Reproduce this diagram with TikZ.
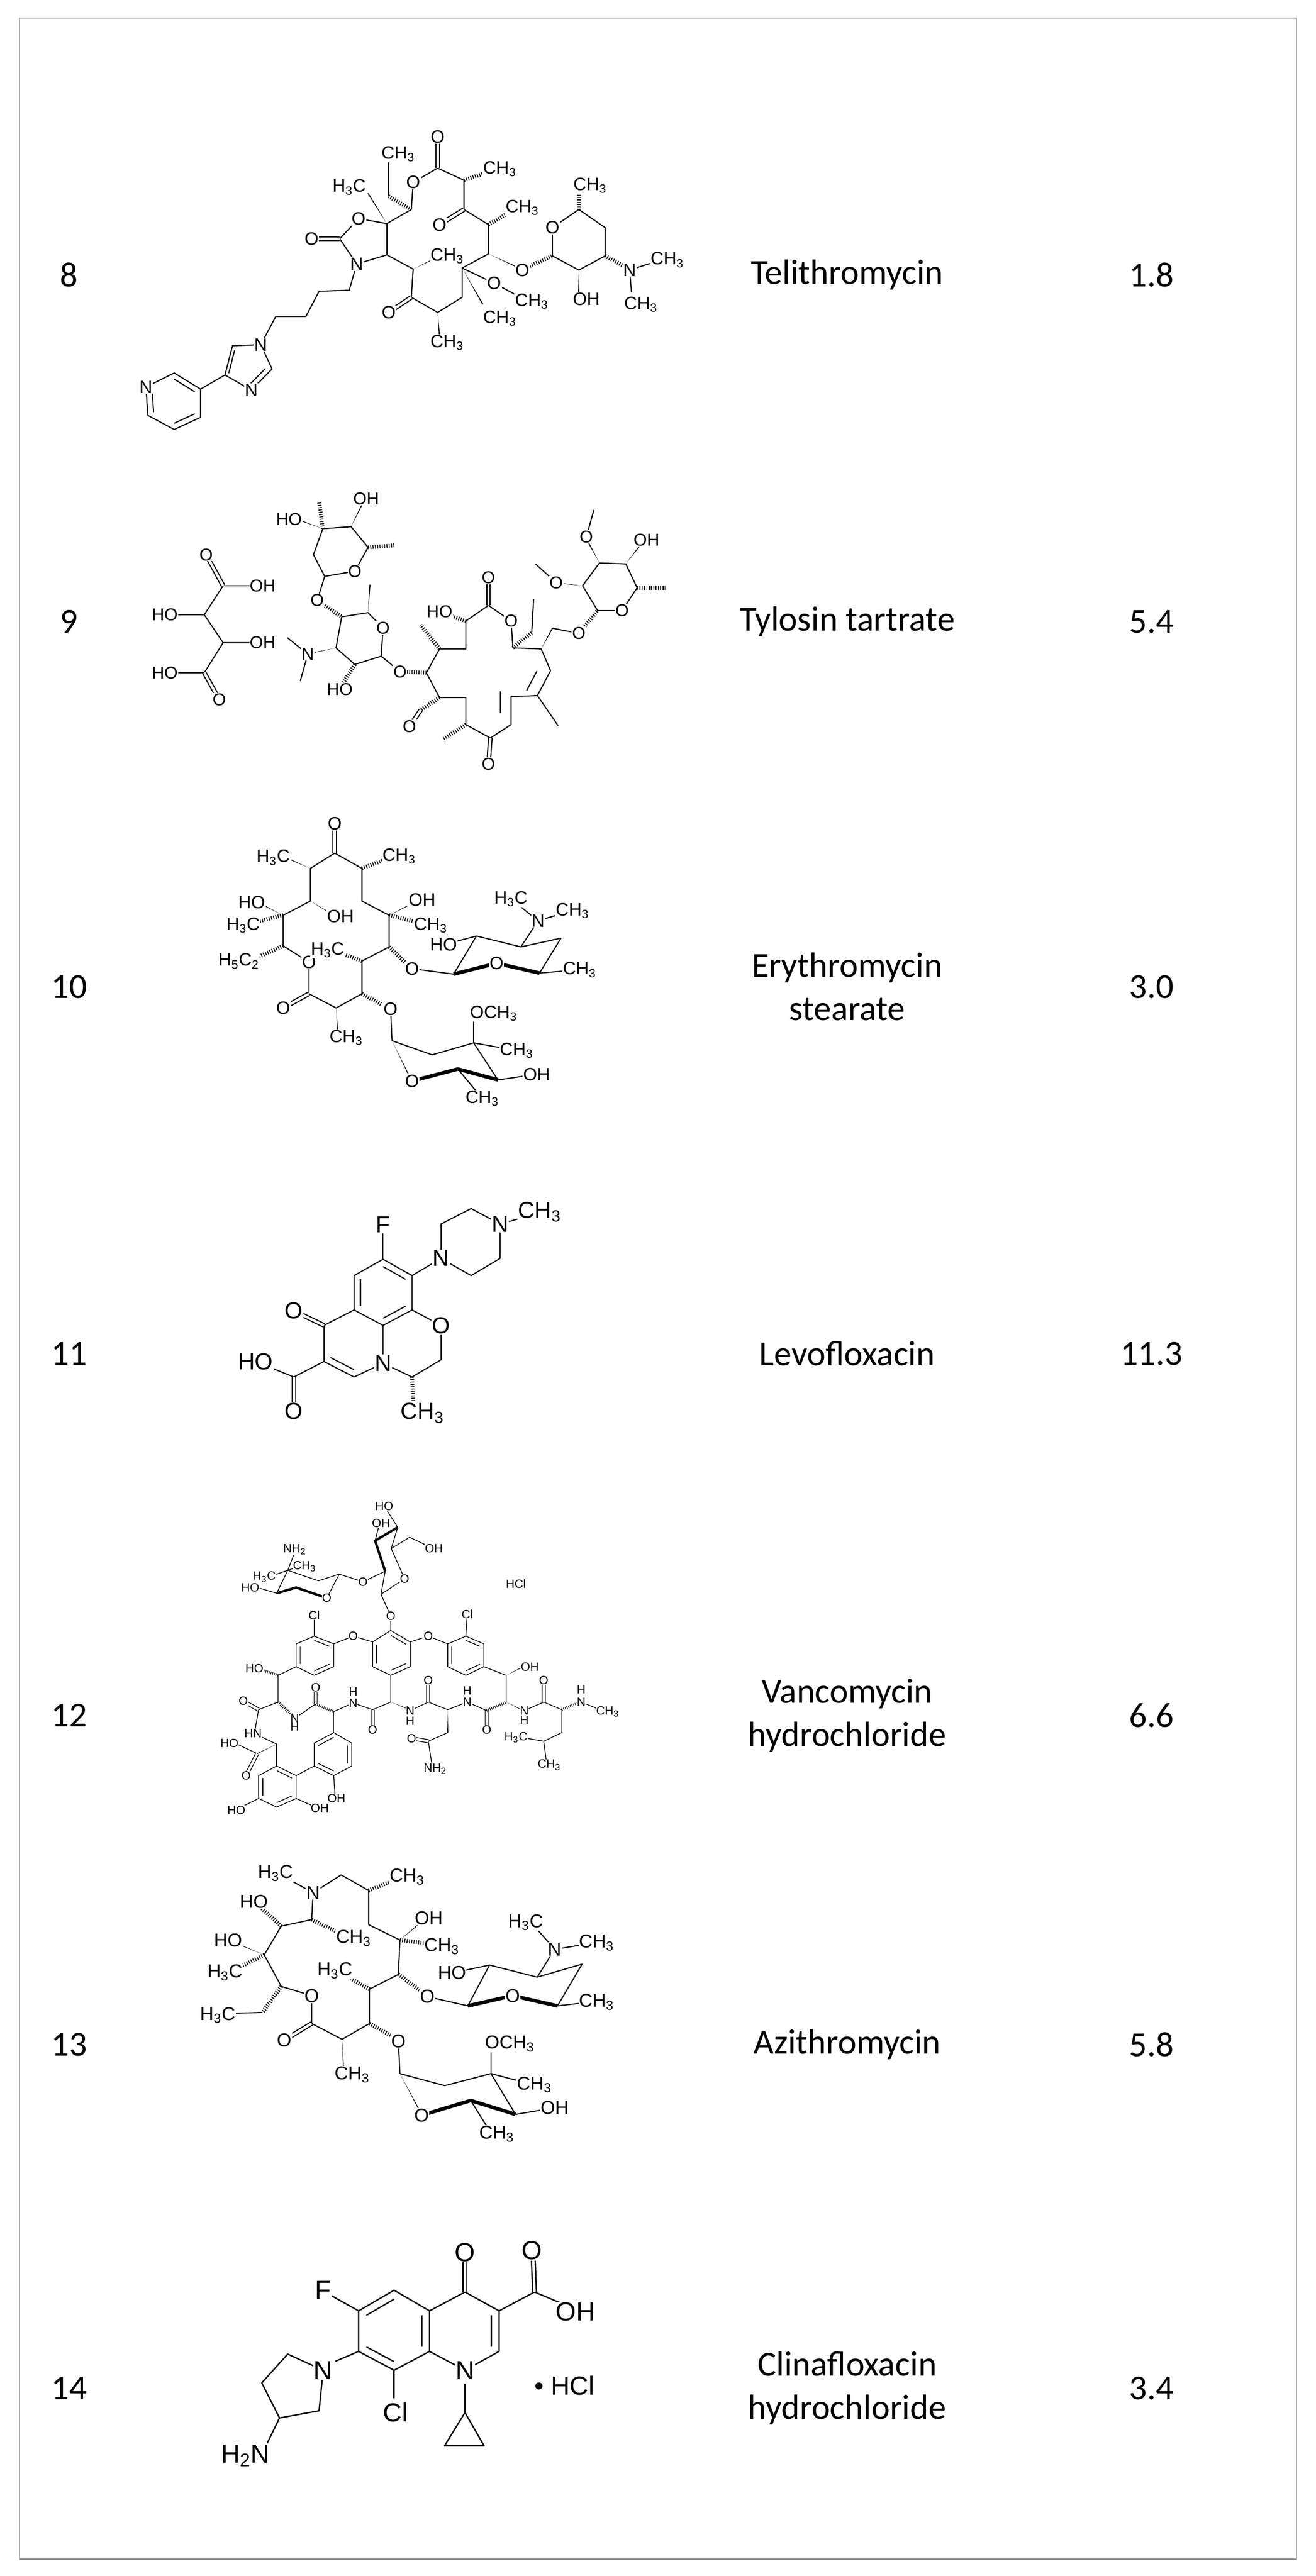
\documentclass[tikz,border=0pt]{standalone}
\usepackage{fontspec}
\setmainfont{Carlito}
\newfontfamily\af{Liberation Sans}
\usetikzlibrary{calc}
\newcommand\subs[1]{\textsubscript{#1}}
\newcommand\CH{CH\subs{3}}
\newcommand\HC{H\subs{3}C}
\newcommand\wdg[2]{\fill #1 -- ($#2!1.8pt!90:#1$) -- ($#2!1.8pt!-90:#1$) -- cycle;}
\newcommand\hsh[2]{\draw[hashb] #1 -- #2;}
\newcommand\din[3]{\draw[bond] ($#1!.22!#3$) -- ($#2!.22!#3$);}
\newcommand\dbo[2]{\draw[bond,double,double distance=1.6pt] #1 -- #2;}
\newcommand\lb[2]{\node[atm] at (#1) {#2};}
\tikzset{
 bond/.style={line width=0.75pt,line join=round},
 boldb/.style={line width=2.4pt,line join=round},
 hashb/.style={line width=2.6pt,dash pattern=on 0.55pt off 1pt},
 atm/.style={fill=white,inner sep=0.4pt,font=\af\fontsize{12}{13}\selectfont},
 tbl/.style={font=\fontsize{23.5}{29}\selectfont,align=center,inner sep=0pt}
}
\begin{document}
\begin{tikzpicture}[x=0.03866cm,y=-0.03866cm]
\useasboundingbox (0,0) rectangle (800,1566.2);
\fill[white] (0,0) rectangle (800,1566.2);
\draw[black!45,line width=0.7pt] (12,11) rectangle (788,1556);
% table text
\node[tbl] (n8) at (42,167) {8};
\node[tbl] (n9) at (42,378) {9};
\node[tbl] (n10) at (42,600) {10};
\node[tbl] (n11) at (42,823) {11};
\node[tbl] (n12) at (42,1043) {12};
\node[tbl] (n13) at (42,1243) {13};
\node[tbl] (n14) at (42,1452) {14};
\node[tbl] (c8) at (515,167) {Telithromycin};
\node[tbl] (c9) at (515,378) {Tylosin tartrate};
\node[tbl] (c10) at (515,600) {Erythromycin\\stearate};
\node[tbl] (c11) at (515,823) {Levofloxacin};
\node[tbl] (c12) at (515,1043) {Vancomycin\\hydrochloride};
\node[tbl] (c13) at (515,1243) {Azithromycin};
\node[tbl] (c14) at (515,1452) {Clinafloxacin\\hydrochloride};
\node[tbl] (v8) at (700,167) {1.8};
\node[tbl] (v9) at (700,378) {5.4};
\node[tbl] (v10) at (700,600) {3.0};
\node[tbl] (v11) at (700,823) {11.3};
\node[tbl] (v12) at (700,1043) {6.6};
\node[tbl] (v13) at (700,1243) {5.8};
\node[tbl] (v14) at (700,1452) {3.4};

% ---------- 8 Telithromycin
\begin{scope}[shift={(75,67.25)},xscale=0.2288,yscale=0.1227]
\draw[bond] (835,285)--(770,355)--(765,490)--(700,560)--(700,715)--(770,785)--(765,925)--(835,1000)--(900,925)--(900,780)--(970,710)--(970,565)--(905,490)--(905,345)--cycle;
\dbo{(835,285)}{(835,130)} \dbo{(765,925)}{(705,1000)} \dbo{(905,490)}{(840,565)}
\hsh{(905,345)}{(975,300)} \hsh{(970,565)}{(1030,500)}
\wdg{(970,710)}{(1040,770)} \hsh{(1080,770)}{(1140,720)}
\wdg{(900,780)}{(955,960)}
\draw[bond] (900,780)--(985,855)--(1060,930);
\wdg{(770,785)}{(830,730)} \wdg{(835,1000)}{(840,1120)}
\hsh{(765,490)}{(705,425)} \draw[bond] (705,425)--(705,250);
\wdg{(700,560)}{(650,410)}
\draw[bond] (700,560)--(625,535)--(575,635)--(620,760)--(700,715);
\dbo{(575,635)}{(500,635)}
\draw[bond] (620,760)--(600,890)--(520,895)--(485,1020)--(405,1020)--(365,1160);
\draw[bond] (365,1160)--(290,1165)--(270,1310)--(340,1385)--(395,1280)--cycle;
\din{(290,1165)}{(270,1310)}{(315,1270)} \din{(395,1280)}{(340,1385)}{(315,1270)}
\draw[bond] (270,1310)--(205,1380);
\draw[bond] (205,1380)--(135,1300)--(60,1370)--(65,1510)--(135,1580)--(205,1520)--cycle;
\din{(135,1300)}{(205,1380)}{(135,1440)} \din{(60,1370)}{(65,1510)}{(135,1440)} \din{(135,1580)}{(205,1520)}{(135,1440)}
\draw[bond] (1140,720)--(1140,580)--(1210,490)--(1280,580)--(1280,720)--(1210,790)--cycle;
\hsh{(1210,490)}{(1210,400)} \wdg{(1210,790)}{(1210,900)} \hsh{(1280,720)}{(1330,770)}
\draw[bond] (1345,790)--(1420,745); \draw[bond] (1345,790)--(1350,900);
\lb{835,130}{O} \lb{770,355}{O} \lb{705,1000}{O} \lb{840,565}{O}
\lb{1000,290}{\CH} \lb{1060,480}{\CH} \lb{1060,790}{O} \lb{1000,1030}{\CH}
\lb{985,855}{O} \lb{1085,945}{\CH} \lb{860,720}{\CH} \lb{860,1150}{\CH}
\lb{730,215}{\CH} \lb{600,380}{\HC} \lb{625,535}{O} \lb{620,760}{N} \lb{500,635}{O}
\lb{365,1160}{N} \lb{340,1385}{N} \lb{60,1370}{N}
\lb{1140,580}{O} \lb{1240,370}{\CH} \lb{1230,935}{OH} \lb{1345,790}{N} \lb{1445,740}{\CH} \lb{1375,960}{\CH}
\end{scope}

% ---------- 9 Tylosin tartrate
\begin{scope}[shift={(75,274.2)},xscale=0.2288,yscale=0.1260,atm/.append style={font=\af\fontsize{11.5}{12}\selectfont}]
\draw[bond] (365,650)--(265,650)--(215,790)--(110,790);
\draw[bond] (215,790)--(265,925)--(365,925);
\draw[bond] (265,925)--(215,1070)--(110,1070);
\dbo{(265,650)}{(220,500)} \dbo{(215,1070)}{(255,1200)}
\draw[bond] (535,605)--(615,580)--(650,465)--(605,365)--(530,375)--(505,500)--cycle;
\hsh{(650,465)}{(720,455)} \wdg{(605,365)}{(635,255)} \wdg{(530,375)}{(470,335)} \hsh{(530,375)}{(520,245)}
\draw[bond] (535,605)--(515,720);
\hsh{(515,720)}{(580,800)}
\draw[bond] (580,800)--(650,780)--(690,855)--(685,990)--(615,1030)--(565,950)--cycle;
\wdg{(650,780)}{(655,645)} \wdg{(565,950)}{(500,975)}
\draw[bond] (490,980)--(435,900); \draw[bond] (490,980)--(470,1110);
\hsh{(615,1030)}{(580,1130)}
\draw[bond] (685,990)--(735,1065); \hsh{(735,1065)}{(805,1070)}
\draw[bond] (805,1070)--(840,955)--(910,955)--(910,820)--(970,745)--(1030,820)--(1035,950)--(1110,955)--(1135,1060)--(1100,1180)--(1030,1185)--(1030,1320)--(975,1385)--(910,1320)--(910,1190)--(840,1190)--cycle;
\dbo{(970,745)}{(970,610)}
\din{(1135,1060)}{(1100,1180)}{(970,1070)} \din{(1030,1185)}{(1030,1320)}{(900,1070)}
\dbo{(975,1385)}{(970,1510)}
\hsh{(910,1320)}{(850,1390)} \hsh{(840,1190)}{(790,1250)} \dbo{(790,1250)}{(760,1330)}
\draw[bond] (1100,1180)--(1155,1325);
\hsh{(910,820)}{(860,790)} \hsh{(840,955)}{(790,840)}
\hsh{(1035,950)}{(1085,875)} \draw[bond] (1085,875)--(1090,715);
\wdg{(1110,955)}{(1140,855)} \draw[bond] (1140,855)--(1210,880); \hsh{(1210,880)}{(1260,770)}
\draw[bond] (1260,770)--(1325,770)--(1365,660)--(1335,545)--(1265,540)--(1220,650)--cycle;
\hsh{(1365,660)}{(1440,660)} \wdg{(1335,545)}{(1375,450)} \wdg{(1265,540)}{(1235,440)}
\draw[bond] (1230,415)--(1250,285);
\wdg{(1220,650)}{(1170,640)} \draw[bond] (1150,635)--(1095,545);
\lb{370,650}{OH} \lb{220,500}{O} \lb{110,790}{HO} \lb{370,925}{OH} \lb{110,1070}{HO} \lb{255,1200}{O}
\lb{615,580}{O} \lb{645,230}{OH} \lb{440,330}{HO} \lb{515,720}{O} \lb{690,855}{O} \lb{490,980}{N} \lb{575,1150}{HO} \lb{735,1065}{O}
\lb{1030,820}{O} \lb{970,610}{O} \lb{970,1510}{O} \lb{760,1330}{O} \lb{840,775}{HO} \lb{1210,880}{O}
\lb{1325,770}{O} \lb{1390,430}{OH} \lb{1230,415}{O} \lb{1150,635}{O}
\end{scope}

% ---------- 10 Erythromycin stearate
\begin{scope}[shift={(108.6,491.5)},xscale=0.1741,yscale=0.1326]
\draw[bond] (545,205)--(460,275)--(460,425)--(365,490)--(365,630)--(455,705)--(455,850)--(550,915)--(640,850)--(640,700)--(735,635)--(735,490)--(640,425)--(640,275)--cycle;
\dbo{(545,205)}{(545,70)} \dbo{(455,850)}{(365,915)}
\wdg{(460,275)}{(390,235)} \wdg{(460,425)}{(530,480)} \wdg{(365,490)}{(290,440)} \hsh{(365,490)}{(270,520)}
\hsh{(365,630)}{(280,680)} \wdg{(550,915)}{(555,1020)} \hsh{(640,850)}{(710,900)} \hsh{(640,700)}{(560,660)}
\hsh{(735,635)}{(800,720)} \wdg{(735,490)}{(810,440)} \hsh{(735,490)}{(830,520)} \hsh{(640,275)}{(720,235)}
\draw[bond] (815,735)--(960,760);
\draw[bond] (1260,755)--(1335,595)--(1195,635)--(1040,585)--(960,760);
\draw[boldb] (960,760)--(1110,710)--(1260,755);
\draw[bond] (1040,585)--(925,625); \draw[bond] (1195,635)--(1255,515);
\draw[bond] (1255,515)--(1160,415); \draw[bond] (1255,515)--(1370,470); \draw[bond] (1260,755)--(1400,740);
\draw[bond] (740,920)--(745,1065);
\draw[bond] (745,1065)--(885,1130)--(1030,1075)--(1115,1245);
\draw[boldb] (1115,1245)--(975,1195)--(815,1250);
\wdg{(745,1065)}{(810,1240)}
\draw[bond] (1030,1075)--(1030,960); \draw[bond] (1030,1075)--(1180,1110); \draw[bond] (1115,1245)--(1245,1220); \draw[bond] (975,1195)--(1060,1330);
\lb{455,705}{O} \lb{545,70}{O} \lb{365,915}{O} \lb{330,225}{\HC} \lb{565,495}{OH} \lb{255,430}{HO} \lb{225,535}{\HC}
\lb{210,700}{H\subs{5}C\subs{2}} \lb{585,1050}{\CH} \lb{740,920}{O} \lb{520,650}{\HC} \lb{815,735}{O} \lb{850,420}{OH} \lb{880,535}{\CH} \lb{770,220}{\CH}
\lb{1110,710}{O} \lb{925,625}{HO} \lb{1255,515}{N} \lb{1160,415}{\HC} \lb{1375,470}{\CH} \lb{1400,740}{\CH}
\lb{815,1250}{O} \lb{1100,940}{OCH\subs{3}} \lb{1180,1110}{\CH} \lb{1250,1220}{OH} \lb{1060,1330}{\CH}
\end{scope}

% ---------- 11 Levofloxacin
\begin{scope}[shift={(129.3,719.1)},xscale=0.1409,yscale=0.1045,atm/.append style={font=\af\fontsize{15.5}{16}\selectfont}]
\draw[bond] (735,445)--(860,540)--(860,740)--(735,830)--(610,740)--(610,540)--cycle;
\din{(735,445)}{(860,540)}{(735,640)} \din{(860,740)}{(735,830)}{(735,640)} \din{(610,740)}{(610,540)}{(735,640)}
\draw[bond] (735,445)--(735,245);
\draw[bond] (610,740)--(480,830)--(480,1040)--(610,1130)--(735,1050)--(735,830);
\din{(480,1040)}{(610,1130)}{(607,935)}
\dbo{(480,830)}{(350,745)}
\draw[bond] (480,1040)--(350,1130)--(185,1040); \dbo{(350,1130)}{(350,1330)}
\draw[bond] (860,740)--(985,830)--(985,1030)--(860,1130)--(735,1050);
\hsh{(860,1130)}{(865,1270)}
\draw[bond] (860,540)--(985,440);
\draw[bond] (985,440)--(985,240)--(1115,150)--(1240,240)--(1240,440)--(1115,540)--cycle;
\draw[bond] (1240,240)--(1400,180);
\lb{735,245}{F} \lb{735,1050}{N} \lb{350,745}{O} \lb{185,1040}{HO} \lb{350,1330}{O} \lb{985,830}{O} \lb{905,1340}{\CH}
\lb{985,440}{N} \lb{1240,240}{N} \lb{1410,170}{\CH}
\end{scope}

% ---------- 12 Vancomycin hydrochloride
\begin{scope}[shift={(129.3,928.6)},xscale=0.1691,yscale=0.1161,
  bond/.style={line width=0.5pt,line join=round},boldb/.style={line width=1.6pt},
  hashb/.style={line width=1.8pt,dash pattern=on 0.4pt off 0.8pt},
  atm/.append style={font=\af\fontsize{8}{9}\selectfont,inner sep=0.2pt}]
\draw[bond] (435,610)--(365,570)--(300,610)--(300,730)--(365,775)--(435,730)--cycle;
\din{(435,610)}{(365,570)}{(367,670)} \din{(300,610)}{(300,730)}{(367,670)} \din{(365,775)}{(435,730)}{(367,670)}
\draw[bond] (640,540)--(710,600)--(710,730)--(640,775)--(575,730)--(575,600)--cycle;
\din{(640,540)}{(710,600)}{(642,657)} \din{(710,730)}{(640,775)}{(642,657)} \din{(575,730)}{(575,600)}{(642,657)}
\draw[bond] (845,610)--(910,570)--(975,610)--(975,730)--(910,775)--(845,730)--cycle;
\din{(910,570)}{(975,610)}{(910,670)} \din{(975,730)}{(910,775)}{(910,670)} \din{(845,730)}{(845,610)}{(910,670)}
\draw[bond] (640,540)--(640,465)--(605,350);
\draw[bond] (575,600)--(505,570)--(435,610);
\draw[bond] (710,600)--(775,570)--(845,610);
\draw[bond] (365,570)--(365,460); \draw[bond] (910,570)--(915,455);
\draw[bond] (300,730)--(235,775); \hsh{(235,775)}{(170,745)}
\draw[bond] (235,775)--(235,915)--(165,955); \dbo{(165,955)}{(110,910)}
\hsh{(235,915)}{(290,990)}
\draw[bond] (295,1000)--(370,925); \dbo{(370,925)}{(370,840)} \hsh{(370,925)}{(435,965)}
\draw[bond] (435,965)--(505,920)--(575,955); \dbo{(575,955)}{(575,1060)}
\draw[bond] (575,955)--(640,915)--(640,775); \wdg{(640,915)}{(700,950)}
\draw[bond] (710,960)--(775,915); \dbo{(775,915)}{(775,800)}
\draw[bond] (775,915)--(845,955); \wdg{(845,955)}{(845,1075)}
\draw[bond] (845,1075)--(775,1120); \dbo{(775,1120)}{(715,1105)} \draw[bond] (775,1120)--(790,1260);
\draw[bond] (845,955)--(915,915)--(985,960); \dbo{(985,960)}{(985,1060)} \hsh{(985,960)}{(1055,915)}
\draw[bond] (1055,915)--(1055,775)--(975,730); \wdg{(1055,775)}{(1110,735)}
\wdg{(1055,915)}{(1110,955)}
\draw[bond] (1120,960)--(1190,915); \dbo{(1190,915)}{(1190,800)}
\draw[bond] (1190,915)--(1255,955); \hsh{(1255,955)}{(1315,920)}
\draw[bond] (1325,915)--(1400,960);
\draw[bond] (1255,955)--(1255,1075)--(1190,1120)--(1110,1100); \draw[bond] (1190,1120)--(1200,1230);
\draw[bond] (165,955)--(150,1080)--(230,1135); \wdg{(230,1135)}{(160,1185)}
\draw[bond] (160,1185)--(80,1130); \dbo{(160,1185)}{(120,1300)}
\draw[bond] (230,1135)--(230,1250);
\draw[bond] (230,1250)--(300,1300)--(300,1420)--(230,1465)--(165,1420)--(165,1300)--cycle;
\din{(230,1250)}{(300,1300)}{(232,1358)} \din{(300,1420)}{(230,1465)}{(232,1358)} \din{(165,1420)}{(165,1300)}{(232,1358)}
\draw[bond] (165,1420)--(95,1470); \draw[bond] (300,1420)--(370,1465); \draw[bond] (300,1300)--(365,1250);
\draw[bond] (435,1075)--(500,1130)--(500,1250)--(435,1300)--(365,1250)--(365,1130)--cycle;
\din{(500,1130)}{(500,1250)}{(432,1188)} \din{(435,1300)}{(365,1250)}{(432,1188)} \din{(365,1130)}{(435,1075)}{(432,1188)}
\draw[bond] (435,1075)--(435,965); \draw[bond] (435,1300)--(440,1410);
% sugars
\draw[bond] (605,350)--(620,230); \draw[boldb] (620,230)--(584,70)--(665,0);
\draw[bond] (665,0)--(642,111)--(690,270)--(605,350);
\draw[bond] (642,111)--(708,52)--(793,111); \draw[bond] (665,0)--(617,-111); \draw[bond] (584,70)--(600,-22);
\draw[bond] (620,230)--(540,285)--(455,245);
\draw[bond] (455,245)--(380,280)--(270,225)--(230,345);
\draw[boldb] (230,345)--(300,315)--(410,370);
\draw[bond] (410,370)--(455,245);
\draw[bond] (270,225)--(295,130); \draw[bond] (270,225)--(300,210); \draw[bond] (270,225)--(210,255); \draw[bond] (230,345)--(160,315);
\lb{640,465}{O} \lb{505,570}{O} \lb{775,570}{O} \lb{365,460}{Cl} \lb{915,455}{Cl}
\lb{150,740}{HO} \lb{110,910}{O} \lb{295,1000}{N} \lb{295,1045}{H} \lb{370,840}{O} \lb{505,920}{N} \lb{505,860}{H}
\lb{575,1060}{O} \lb{710,960}{N} \lb{710,1015}{H} \lb{775,800}{O} \lb{715,1105}{O} \lb{800,1265}{NH\subs{2}}
\lb{915,915}{N} \lb{915,855}{H} \lb{985,1060}{O} \lb{1140,730}{OH} \lb{1120,960}{N} \lb{1120,1010}{H} \lb{1190,800}{O}
\lb{1325,915}{N} \lb{1325,850}{H} \lb{1420,965}{\CH} \lb{1090,1100}{\HC} \lb{1210,1245}{\CH}
\lb{145,1080}{HN} \lb{60,1130}{HO} \lb{120,1300}{O} \lb{85,1480}{HO} \lb{385,1470}{OH} \lb{445,1420}{OH}
\lb{690,270}{O} \lb{795,111}{OH} \lb{617,-111}{HO} \lb{605,-22}{OH} \lb{540,285}{O} \lb{410,370}{O}
\lb{295,115}{NH\subs{2}} \lb{330,205}{\CH} \lb{185,260}{\HC} \lb{135,315}{HO}
\lb{1090,295}{HCl}
\end{scope}

% ---------- 13 Azithromycin
\begin{scope}[shift={(108.6,1148.5)},xscale=0.1758,yscale=0.1128,atm/.append style={font=\af\fontsize{12.5}{13}\selectfont}]
\draw[bond] (465,20)--(460,165)--(355,200)--(296,355)--(355,525)--(460,575)--(460,725)--(565,810)--(660,725)--(660,540)--(760,460)--(765,275)--(657,192)--(657,8)--(562,-76)--cycle;
\draw[bond] (465,20)--(360,-70);
\hsh{(657,8)}{(750,-50)} \hsh{(460,165)}{(560,240)} \hsh{(355,200)}{(285,100)}
\wdg{(296,355)}{(210,300)} \hsh{(296,355)}{(200,430)}
\hsh{(355,525)}{(290,665)} \draw[bond] (290,665)--(190,670);
\dbo{(460,725)}{(365,815)}
\wdg{(565,810)}{(570,960)} \hsh{(660,725)}{(745,800)} \hsh{(660,540)}{(580,470)} \hsh{(760,460)}{(845,560)}
\wdg{(765,275)}{(830,190)} \hsh{(765,275)}{(870,295)}
\draw[bond] (860,580)--(1000,630);
\draw[bond] (1000,630)--(1075,410)--(1240,475)--(1395,405)--(1310,630);
\draw[boldb] (1000,630)--(1155,575)--(1310,630);
\draw[bond] (1075,410)--(985,440); \draw[bond] (1240,475)--(1300,325);
\draw[bond] (1300,325)--(1230,200); \draw[bond] (1300,325)--(1400,300); \draw[bond] (1310,630)--(1420,610);
\draw[bond] (760,820)--(765,995);
\draw[bond] (765,995)--(920,1060)--(1080,995)--(1165,1215);
\draw[boldb] (1165,1215)--(1010,1140)--(840,1220);
\wdg{(765,995)}{(835,1200)}
\draw[bond] (1080,995)--(1080,860); \draw[bond] (1080,995)--(1190,1040); \draw[bond] (1165,1215)--(1260,1190); \draw[bond] (1010,1140)--(1070,1290);
\lb{465,20}{N} \lb{460,575}{O} \lb{335,-84}{\HC} \lb{790,-65}{\CH} \lb{605,265}{\CH} \lb{260,69}{HO}
\lb{171,276}{HO} \lb{160,450}{\HC} \lb{135,680}{\HC} \lb{365,815}{O} \lb{600,1000}{\CH} \lb{760,820}{O}
\lb{540,440}{\HC} \lb{860,580}{O} \lb{865,157}{OH} \lb{910,310}{\CH}
\lb{1155,575}{O} \lb{945,450}{HO} \lb{1300,325}{N} \lb{1200,180}{\HC} \lb{1445,290}{\CH} \lb{1445,610}{\CH}
\lb{840,1220}{O} \lb{1145,835}{OCH\subs{3}} \lb{1230,1055}{\CH} \lb{1300,1180}{OH} \lb{1100,1320}{\CH}
\end{scope}

% ---------- 14 Clinafloxacin hydrochloride
\begin{scope}[shift={(129.3,1339.9)},xscale=0.1658,yscale=0.1094,bond/.style={line width=0.9pt,line join=round},atm/.append style={font=\af\fontsize{17.5}{18}\selectfont}]
\draw[bond] (665,480)--(795,595)--(795,820)--(665,925)--(535,820)--(535,595)--cycle;
\din{(665,480)}{(535,595)}{(665,707)} \din{(795,595)}{(795,820)}{(665,707)} \din{(665,925)}{(535,820)}{(665,707)}
\draw[bond] (535,595)--(435,510); \draw[bond] (665,925)--(665,1080); \draw[bond] (535,820)--(450,875);
\draw[bond] (795,595)--(925,490)--(1050,595)--(1050,820)--(925,925)--(795,820);
\din{(1050,595)}{(1050,820)}{(922,707)}
\dbo{(925,490)}{(925,290)}
\draw[bond] (1050,595)--(1180,490)--(1290,560); \dbo{(1180,490)}{(1175,290)}
\draw[bond] (925,1000)--(925,1160);
\draw[bond] (925,1160)--(850,1345)--(995,1345)--cycle;
\draw[bond] (405,925)--(275,835)--(180,995)--(245,1190)--(390,1150)--cycle;
\draw[bond] (245,1190)--(200,1330);
\lb{405,480}{F} \lb{670,1160}{Cl} \lb{405,925}{N} \lb{925,925}{N} \lb{925,270}{O} \lb{1170,260}{O} \lb{1330,600}{OH}
\lb{120,1400}{H\subs{2}N} \lb{1290,1010}{\textbullet\ HCl}
\end{scope}
\end{tikzpicture}
\end{document}
